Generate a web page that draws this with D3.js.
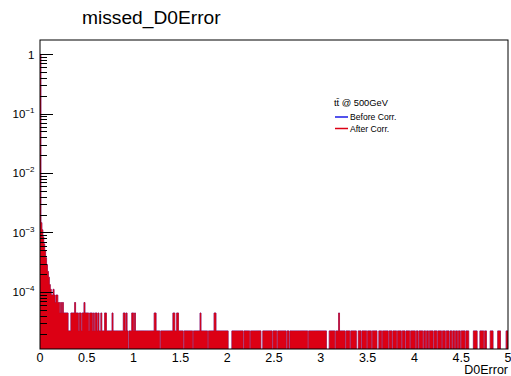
<!DOCTYPE html>
<html>
<head>
<meta charset="utf-8">
<script src="https://cdn.jsdelivr.net/npm/d3@7"></script>
<style>
  html, body { margin: 0; padding: 0; background: #fff; }
  svg { display: block; font-family: "Liberation Sans", Arial, Helvetica, sans-serif; }
</style>
</head>
<body>
<svg id="chart" width="511" height="376"></svg>
<script>
// Entries per 0.01-wide D0Error bin, one array per unit of D0Error.
const countsFrom0 = [
  44350, 66, 50, 38, 29, 22, 17, 13, 10, 8, 6, 5,
  4, 4, 5, 4, 3, 4, 4, 3, 3,
  2, 3, 2, 3, 2, 2, 2, 2, 2,
  1, 1, 1,
  2, 2, 2, 2, 3, 2, 2, 2, 1, 2, 2, 1, 2, 2, 3, 2, 2, 2,
  2, 1, 2, 2, 2, 1, 2, 1, 2, 2, 1, 2, 1, 1, 2, 1, 1,
  1, 2, 2, 1, 1, 1, 1, 1, 1,
  2, 1, 1, 1, 1, 1, 1, 1, 1, 1, 1,
  1, 2, 2, 1, 2, 1,
  0,
  1, 1, 1, 2, 2
];
const countsFrom1 = [
  1, 2, 1, 1, 1, 1, 1, 1, 1, 1, 1, 1, 1, 1, 1, 1, 1, 1, 1, 1,
  1, 1, 2, 2, 1, 1, 1, 1, 0, 1, 1, 1, 1, 1, 1, 1, 1, 1, 1, 1,
  1, 1, 2, 2, 1, 1, 2, 2, 1, 1, 1, 1, 1, 0, 1, 1, 1, 1, 1, 1,
  1, 1, 1, 0, 1, 1, 1, 1, 1, 1, 1, 2, 1, 1, 1, 1, 1, 1, 1, 0,
  1, 1, 1, 1, 1, 1, 2, 2, 1, 1, 1, 1, 1, 1, 1, 1, 1, 1, 1, 1
];
const countsFrom2 = [
  1, 0, 0, 0, 0, 1, 1, 1, 1, 1, 1, 1, 1, 1, 1, 1, 1, 0, 1, 1,
  1, 1, 1, 1, 0, 1, 1, 1, 1, 1, 1, 1, 1, 1, 1, 1, 0, 0, 1, 1,
  1, 1, 1, 1, 1, 1, 1, 1, 0, 1, 1, 1, 1, 0, 1, 1, 1, 1, 1, 1,
  1, 1, 1, 0, 1, 1, 0, 1, 1, 1, 1, 1, 1, 1, 1, 1, 1, 1, 1, 1,
  1, 1, 1, 1, 1, 1, 0, 1, 1, 1, 1, 1, 1, 1, 1, 1, 1, 1, 1, 1
];
const countsFrom3 = [
  1, 1, 1, 1, 1, 1, 0, 0, 0, 1, 1, 1, 1, 1, 1, 0, 1, 1, 1, 2,
  1, 1, 1, 1, 1, 1, 0, 1, 1, 1, 1, 0, 1, 1, 1, 1, 1, 1, 0, 0,
  1, 1, 1, 0, 1, 1, 1, 1, 1, 0, 1, 1, 1, 1, 0, 1, 1, 1, 1, 1,
  0, 0, 1, 1, 1, 0, 1, 1, 1, 1, 1, 1, 0, 1, 1, 1, 0, 1, 1, 1,
  1, 0, 1, 1, 1, 1, 0, 1, 1, 1, 0, 1, 1, 1, 1, 0, 1, 1, 1, 1
];
const countsFrom4 = [
  1, 0, 1, 1, 0, 1, 1, 1, 1, 0, 1, 1, 0, 1, 1, 0, 1, 1, 1, 1,
  0, 1, 1, 1, 0, 1, 1, 1, 1, 0, 1, 1, 1, 0, 1, 1, 1, 0, 1, 1,
  0, 1, 1, 0, 1, 1, 0, 1, 1, 0, 1, 1, 1, 1, 0, 1, 1, 1, 0, 0,
  0, 0, 0, 1, 1, 1, 1, 0, 0, 0, 1, 1, 1, 1, 0, 1, 1, 0, 0, 0,
  0, 1, 1, 1, 0, 0, 0, 0, 0, 1, 1, 1, 0, 0, 0, 0, 0, 0, 1, 1
];

const binWidth = 0.01;
const xRange = [0, 5];
const xTickValues = [0, 0.5, 1, 1.5, 2, 2.5, 3, 3.5, 4, 4.5, 5];
const xTickLabels = ["0", "0.5", "1", "1.5", "2", "2.5", "3", "3.5", "4", "4.5", "5"];
const yMajorTicks = [1, 1e-1, 1e-2, 1e-3, 1e-4];
const yTickExponents = ["", "\u22121", "\u22122", "\u22123", "\u22124"];
const yRange = [1.1e-5, 1.72];

const chartTitle = "missed_D0Error";
const xAxisTitle = "D0Error";
const legendHeader = "tt\u0304 @ 500GeV";
const seriesNames = ["Before Corr.", "After Corr."];
const seriesColors = ["#1a1ae6", "#dc0014"];

// Build normalized histogram bins
const counts = [].concat(countsFrom0, countsFrom1, countsFrom2, countsFrom3, countsFrom4);
const total = d3.sum(counts);
const bins = counts.map((c, i) => ({ lo: i * binWidth, hi: (i + 1) * binWidth, value: c / total }));

const svg = d3.select("#chart");
const frame = { left: 40, right: 508, top: 40, bottom: 349 };

const x = d3.scaleLinear().domain(xRange).range([frame.left, frame.right]);
const y = d3.scaleLog().domain(yRange).range([frame.bottom, frame.top]);

// Step outline for contiguous non-empty bins, filled down to the frame bottom
function histPath(data) {
  const p = d3.path();
  let open = false, lastHi = 0;
  data.forEach(b => {
    if (b.value > 0) {
      if (!open) { p.moveTo(x(b.lo), y.range()[0]); open = true; }
      p.lineTo(x(b.lo), y(b.value));
      p.lineTo(x(b.hi), y(b.value));
      lastHi = b.hi;
    } else if (open) {
      p.lineTo(x(lastHi), y.range()[0]);
      p.closePath();
      open = false;
    }
  });
  if (open) { p.lineTo(x(lastHi), y.range()[0]); p.closePath(); }
  return p.toString();
}

const plot = svg.append("g");
plot.append("defs").append("clipPath").attr("id", "frameClip")
  .append("rect")
  .attr("x", frame.left).attr("y", frame.top)
  .attr("width", frame.right - frame.left).attr("height", frame.bottom - frame.top);

const hist = plot.append("g").attr("clip-path", "url(#frameClip)");
const d = histPath(bins);
// Before-correction histogram (line only), drawn first
hist.append("path").attr("d", d)
  .attr("fill", "none").attr("stroke", seriesColors[0]).attr("stroke-width", 0.5);
// After-correction histogram
hist.append("path").attr("d", d)
  .attr("fill", seriesColors[1]).attr("stroke", "#c20020").attr("stroke-width", 0.6);

// Frame
svg.append("rect")
  .attr("x", frame.left).attr("y", frame.top)
  .attr("width", frame.right - frame.left).attr("height", frame.bottom - frame.top)
  .attr("fill", "none").attr("stroke", "#000").attr("stroke-width", 1);

// Y axis: log ticks pointing into the frame
const yAxis = svg.append("g");
const minorTicks = [];
yMajorTicks.concat([1e-5]).forEach(dec => {
  for (let k = 2; k <= 9; k++) {
    const v = k * dec;
    if (v >= yRange[0] && v <= yRange[1] && !yMajorTicks.includes(v)) minorTicks.push(v);
  }
});
yAxis.selectAll("line.minor").data(minorTicks).join("line")
  .attr("class", "minor")
  .attr("x1", frame.left).attr("x2", frame.left + 7)
  .attr("y1", v => Math.round(y(v)) + 0.5).attr("y2", v => Math.round(y(v)) + 0.5)
  .attr("stroke", "#000").attr("stroke-width", 1);
yAxis.selectAll("line.major").data(yMajorTicks).join("line")
  .attr("class", "major")
  .attr("x1", frame.left).attr("x2", frame.left + 13)
  .attr("y1", v => Math.round(y(v)) + 0.5).attr("y2", v => Math.round(y(v)) + 0.5)
  .attr("stroke", "#000").attr("stroke-width", 1);

const yLabels = yAxis.selectAll("text").data(yMajorTicks).join("text")
  .attr("x", 34.5)
  .attr("y", v => y(v) + 4.5)
  .attr("text-anchor", "end")
  .attr("font-size", 11.5)
  .attr("fill", "#000");
yLabels.each(function (v, i) {
  const t = d3.select(this);
  if (yTickExponents[i] === "") {
    t.text("1");
  } else {
    t.append("tspan").text("10");
    t.append("tspan").attr("dy", -5).attr("font-size", 8).text(yTickExponents[i]);
  }
});

// X axis labels
svg.append("g").selectAll("text").data(xTickValues).join("text")
  .attr("x", v => x(v))
  .attr("y", 362)
  .attr("text-anchor", "middle")
  .attr("font-size", 12.5)
  .attr("fill", "#000")
  .text((v, i) => xTickLabels[i]);

svg.append("text")
  .attr("x", frame.right).attr("y", 373.5)
  .attr("text-anchor", "end")
  .attr("font-size", 12.5)
  .attr("fill", "#000")
  .text(xAxisTitle);

// Title
svg.append("text")
  .attr("x", 82).attr("y", 24)
  .attr("font-size", 19.2)
  .attr("fill", "#000")
  .text(chartTitle);

// Legend
const legend = svg.append("g");
legend.append("text")
  .attr("x", 334).attr("y", 105.5)
  .attr("font-size", 9.3)
  .attr("fill", "#000")
  .text(legendHeader);
seriesNames.forEach((name, i) => {
  const ly = 117 + i * 11.5;
  legend.append("line")
    .attr("x1", 335).attr("x2", 348)
    .attr("y1", ly).attr("y2", ly)
    .attr("stroke", seriesColors[i]).attr("stroke-width", 1.5);
  legend.append("text")
    .attr("x", 350).attr("y", ly + 3.2)
    .attr("font-size", 8.6)
    .attr("fill", "#000")
    .text(name);
});
</script>
</body>
</html>
